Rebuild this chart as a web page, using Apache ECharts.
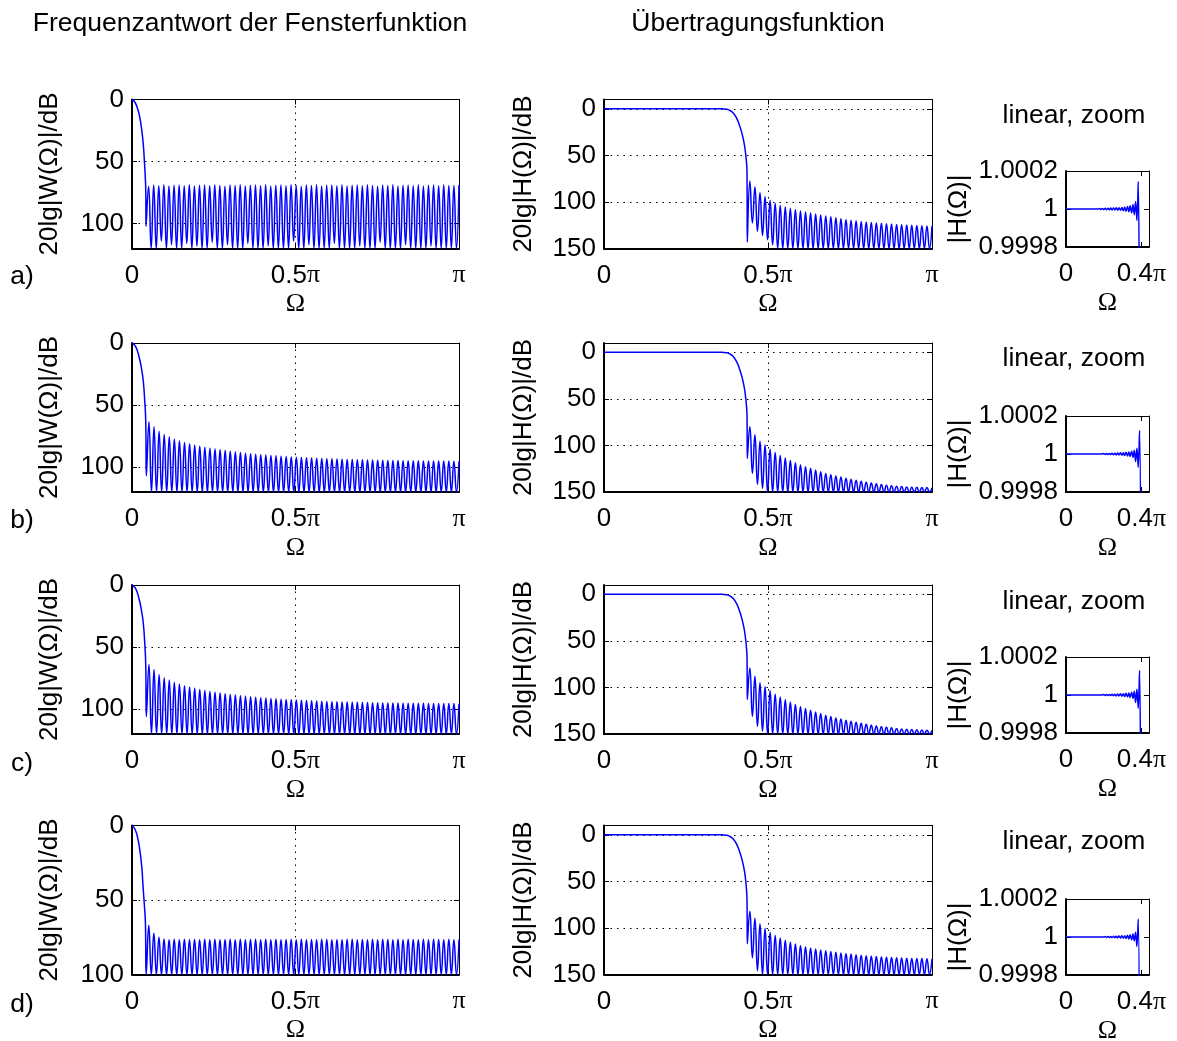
<!DOCTYPE html>
<html>
<head>
<meta charset="utf-8">
<script src="https://cdn.jsdelivr.net/npm/echarts@6/dist/echarts.min.js"></script>
<style>
  html, body { margin: 0; padding: 0; background: #fff; }
  #chart { width: 1177px; height: 1041px; }
</style>
</head>
<body>
<div id="chart"></div>
<script>
// ---------- Window spectra 20lg|W(Ω)| in dB (Ω in units of π) ----------
// main lobe down to its first null
const winMainA = [[0,0],[0.008,1.8],[0.016,6.5],[0.0235,14],[0.03,25],[0.0345,36],[0.038,50],[0.0405,62],[0.042,72],[0.043,102]];
const winMainB = [[0,0],[0.01,2.4],[0.02,9.5],[0.03,22],[0.035,32],[0.039,47],[0.042,63],[0.044,107]];
const winMainC = [[0,0],[0.01,2.4],[0.02,9.5],[0.03,22],[0.035,32],[0.039,47],[0.042,64],[0.044,106]];
const winMainD = [[0,0],[0.008,2],[0.016,7],[0.0236,16],[0.03,28],[0.0337,40.7],[0.038,54],[0.041,65],[0.0435,100]];

// side lobe maxima, from the first null up to π
const winPeaksA = [
  69.8, 68.9, 69.4, 68.7, 69.6, 69.0, 68.8, 69.5, 68.6, 69.7,
  69.1, 68.8, 69.5, 68.7, 69.3, 69.8, 68.9, 69.2, 68.6, 69.6,
  69.0, 68.8, 69.4, 68.7, 69.7, 69.1, 68.9, 69.5, 68.6, 69.2,
  69.8, 68.8, 69.3, 68.7, 69.6, 69.0, 68.9, 69.4, 68.6, 69.7,
  69.1, 68.8, 69.5, 68.7, 69.2, 69.8, 68.9, 69.3, 68.6, 69.6,
  69.0, 68.8, 69.4, 68.7, 69.7, 69.1, 68.9, 69.5, 68.6, 69.2,
  69.3, 68.9];
const winPeaksB = [
  63.5, 67.5, 71.0, 73.6, 75.6, 77.3, 78.8, 80.1, 81.2, 82.2,
  83.1, 83.9, 84.7, 85.4, 86.0, 86.6, 87.2, 87.7, 88.2, 88.7,
  89.1, 89.5, 89.9, 90.3, 90.6, 90.9, 91.2, 91.5, 91.8, 92.0,
  92.2, 92.4, 92.6, 92.8, 93.0, 93.2, 93.3, 93.5, 93.6, 93.8,
  93.9, 94.0, 94.1, 94.2, 94.3, 94.4, 94.5, 94.6, 94.6, 94.7,
  94.8, 94.8, 94.9, 94.9, 95.0, 95.0, 95.0, 95.1, 95.1, 95.1,
  95.2, 95.2];
const winPeaksC = [
  64.0, 68.0, 72.0, 74.6, 76.6, 78.3, 79.8, 81.1, 82.2, 83.2,
  84.1, 84.9, 85.7, 86.4, 87.0, 87.6, 88.1, 88.6, 89.1, 89.6,
  90.0, 90.4, 90.8, 91.1, 91.4, 91.7, 92.0, 92.3, 92.5, 92.7,
  92.9, 93.1, 93.3, 93.5, 93.7, 93.8, 94.0, 94.1, 94.2, 94.3,
  94.4, 94.5, 94.6, 94.7, 94.8, 94.9, 95.0, 95.0, 95.1, 95.1,
  95.2, 95.2, 95.3, 95.3, 95.3, 95.4, 95.4, 95.4, 95.5, 95.5,
  95.5, 95.6];
const winPeaksD = [
  67.0, 72.3, 75.0, 76.2, 76.6, 76.4, 76.7, 76.3, 76.6, 76.5,
  76.7, 76.3, 76.6, 76.4, 76.7, 76.5, 76.3, 76.6, 76.4, 76.7,
  76.5, 76.3, 76.6, 76.4, 76.7, 76.3, 76.6, 76.5, 76.4, 76.7,
  76.3, 76.6, 76.5, 76.7, 76.4, 76.3, 76.6, 76.5, 76.7, 76.4,
  76.3, 76.6, 76.5, 76.7, 76.4, 76.6, 76.3, 76.5, 76.7, 76.4,
  76.6, 76.3, 76.5, 76.7, 76.4, 76.6, 76.3, 76.5, 76.7, 76.4,
  76.6, 76.5];
// depth of the nulls between side lobes (listed ones end above the axis floor,
// the remaining ones run down to it)
const winNullsA = [
  120, 120, 114, 120, 117, 120, 120, 116, 120, 118,
  120, 120, 115, 120, 120, 117, 120, 120, 120, 116,
  120, 120, 120, 118, 120, 120, 120, 120, 114, 120,
  120, 117, 120, 120, 120, 120, 116, 120, 120, 120,
  120, 118, 120, 120, 120, 115, 120, 120, 120, 120,
  117, 120, 120, 120, 120, 118, 120, 120, 120, 120,
  120];
const winNullsB = [];
const winNullsC = [];
const winNullsD = [];

// ---------- Filter responses 20lg|H(Ω)| in dB ----------
const filtMainA = [[0,0],[0.36,0],[0.372,0.4],[0.383,1.6],[0.394,4.6],[0.405,10.5],[0.414,18.6],[0.421,27],[0.427,36.5],[0.431,46],[0.434,56],[0.436,68],[0.437,143]];
const filtMainB = [[0,0],[0.36,0],[0.372,0.4],[0.383,1.6],[0.394,4.6],[0.405,10.5],[0.414,18.6],[0.421,27],[0.427,36.5],[0.431,46],[0.434,56],[0.436,68],[0.437,114]];
const filtMainC = [[0,0],[0.36,0],[0.372,0.4],[0.383,1.6],[0.394,4.6],[0.405,10.5],[0.414,18.6],[0.421,27],[0.427,36.5],[0.431,46],[0.434,56],[0.436,68],[0.437,113]];
const filtMainD = [[0,0],[0.36,0],[0.372,0.4],[0.383,1.6],[0.394,4.6],[0.405,10.5],[0.414,18.6],[0.421,27],[0.427,36.5],[0.431,46],[0.434,57],[0.436,70],[0.437,117]];

const filtPeaksA = [
  77.5, 84.0, 90.0, 94.5, 98.5, 101.5, 103.8, 105.5, 107.0, 108.4,
  109.6, 110.8, 112.0, 113.0, 114.0, 115.0, 116.0, 117.0, 118.0, 118.8,
  119.6, 120.3, 120.9, 121.5, 122.0, 122.5, 122.9, 123.3, 123.7, 124.1,
  124.4, 124.7, 125.0, 125.3, 125.5, 125.8, 126.0];
const filtPeaksB = [
  80.0, 88.5, 95.5, 99.6, 104.0, 107.5, 110.7, 113.5, 116.2, 118.6,
  120.8, 122.8, 124.6, 126.4, 128.2, 130.0, 131.5, 132.8, 134.0, 135.2,
  136.3, 137.4, 138.4, 139.4, 140.4, 141.2, 142.0, 142.7, 143.3, 143.8,
  144.2, 144.5, 144.8, 145.0, 145.2, 145.3, 145.4];
const filtPeaksC = [
  79.0, 88.0, 95.0, 99.2, 103.6, 107.2, 110.4, 113.3, 116.0, 118.4,
  120.6, 122.6, 124.5, 126.3, 128.1, 129.8, 131.3, 132.7, 134.0, 135.2,
  136.3, 137.4, 138.5, 139.5, 140.5, 141.3, 142.1, 142.8, 143.4, 144.0,
  144.5, 144.9, 145.2, 145.5, 145.7, 145.9, 146.0];
const filtPeaksD = [
  82.0, 89.5, 95.5, 100.5, 104.8, 108.0, 110.8, 113.3, 115.4, 117.3,
  118.8, 120.2, 121.5, 122.6, 123.6, 124.5, 125.3, 126.1, 126.8, 127.5,
  128.1, 128.7, 129.3, 129.9, 130.4, 130.8, 131.2, 131.5, 131.8, 132.1,
  132.3, 132.5, 132.7, 132.8, 132.9, 133.0, 133.1];
const filtNullsA = [122.5, 131.5, 136, 140.6, 146];
const filtNullsB = [130, 141.8, 146];
const filtNullsC = [131, 142, 147];
const filtNullsD = [132, 146];

// ---------- Passband detail |H(Ω)|, linear ----------
const zoomA = [[0,1],[0.17,1],[0.178,1.000003],[0.185,0.999997],[0.193,1.000003],[0.2,0.999997],[0.207,1.000004],[0.215,0.999996],[0.222,1.000004],[0.23,0.999996],[0.237,1.000005],[0.244,0.999995],[0.252,1.000005],[0.259,0.999995],[0.267,1.000006],[0.274,0.999994],[0.281,1.000007],[0.289,0.999993],[0.296,1.000008],[0.304,0.999991],[0.311,1.00001],[0.318,0.999988],[0.326,1.000013],[0.333,0.999985],[0.34,1.000017],[0.348,0.99998],[0.355,1.000024],[0.362,0.99997],[0.369,1.00004],[0.376,0.99994],[0.383,1.000145],[0.39,0.9993]];
const zoomB = [[0,1],[0.19,1],[0.2,1.000002],[0.207,0.999998],[0.215,1.000003],[0.222,0.999997],[0.23,1.000003],[0.237,0.999997],[0.244,1.000004],[0.252,0.999996],[0.259,1.000004],[0.267,0.999995],[0.274,1.000005],[0.281,0.999995],[0.289,1.000006],[0.296,0.999994],[0.304,1.000007],[0.311,0.999992],[0.318,1.000009],[0.326,0.99999],[0.333,1.000011],[0.34,0.999987],[0.348,1.000015],[0.355,0.999982],[0.362,1.00002],[0.369,0.99996],[0.376,1.00003],[0.383,0.99993],[0.39,1.000125],[0.397,0.9993]];
const zoomC = [[0,1],[0.19,1],[0.2,1.000002],[0.207,0.999998],[0.215,1.000003],[0.222,0.999997],[0.23,1.000003],[0.237,0.999997],[0.244,1.000004],[0.252,0.999996],[0.259,1.000004],[0.267,0.999995],[0.274,1.000005],[0.281,0.999995],[0.289,1.000006],[0.296,0.999994],[0.304,1.000007],[0.311,0.999992],[0.318,1.000009],[0.326,0.99999],[0.333,1.000011],[0.34,0.999987],[0.348,1.000015],[0.355,0.999982],[0.362,1.00002],[0.369,0.99996],[0.376,1.00003],[0.383,0.99993],[0.39,1.00013],[0.397,0.9993]];
const zoomD = [[0,1],[0.2,1],[0.207,1.000002],[0.215,0.999998],[0.222,1.000003],[0.23,0.999997],[0.237,1.000003],[0.244,0.999997],[0.252,1.000004],[0.259,0.999996],[0.267,1.000004],[0.274,0.999995],[0.281,1.000005],[0.289,0.999995],[0.296,1.000006],[0.304,0.999994],[0.311,1.000007],[0.318,0.999992],[0.326,1.000009],[0.333,0.99999],[0.34,1.000012],[0.348,0.999986],[0.355,1.000016],[0.362,0.99998],[0.369,1.000025],[0.376,0.99995],[0.383,1.000095],[0.39,0.9993]];

// ---------- axis ticks and text ----------
const winTicksAC = [0, 50, 100];
const winTicksD = [0, 50, 100];
const filtTicks = [0, 50, 100, 150];
const zoomTicks = [0.9998, 1, 1.0002];
const omegaTicks = [0, 0.5, 1];
const zoomOmegaTicks = [0, 0.4];
const rowLabels = ['a)', 'b)', 'c)', 'd)'];
const colTitles = ['Frequenzantwort der Fensterfunktion', 'Übertragungsfunktion'];

// ---------- helpers ----------
const FONT = '"Liberation Sans", Arial, Helvetica, sans-serif';
const SERIF = '"Liberation Serif", "DejaVu Serif", serif';
const FS = 26;
const TFS = 26.5;
const BLUE = '#0000ff';

// curve = main lobe, then side lobes spread evenly from the first null to π.
// Each null is emitted twice so the smoothed line keeps a sharp tip there.
function lobeCurve(main, peaks, nulls, floor) {
  const pts = main.slice();
  const first = main[main.length - 1];
  pts.push(first);
  const x0 = first[0];
  const step = (1 - x0) / (peaks.length - 0.5);
  peaks.forEach((p, k) => {
    pts.push([x0 + (k + 0.5) * step, p]);
    if (k < peaks.length - 1) {
      const d = k < nulls.length ? nulls[k] : floor;
      const nx = x0 + (k + 1) * step;
      pts.push([nx, d]);
      pts.push([nx, d]);
    }
  });
  return pts;
}

function piFmt(v) {
  if (v === 0) return '0';
  if (v === 1) return '{p|π}';
  return String(v) + '{p|π}';
}
const labelBase = {
  color: '#000', fontFamily: FONT, fontSize: FS,
  rich: { p: { fontFamily: SERIF, fontSize: FS, color: '#000' } }
};
const dotted = { type: [1.5, 5], color: '#000', width: 1 };

const grids = [], xAxes = [], yAxes = [], series = [];

function addPanel(cfg) {
  const g = grids.length;
  grids.push({ left: cfg.left, top: cfg.top, width: cfg.width, height: cfg.height,
               containLabel: false, outerBoundsMode: 'none' });
  const xi = xAxes.length, yi = yAxes.length;
  // bottom x axis with labels
  xAxes.push({
    type: 'value', gridIndex: g, position: 'bottom', min: cfg.xmin, max: cfg.xmax,
    axisLine: { show: true, onZero: false, lineStyle: { color: '#000', width: 2 } },
    axisTick: { show: true, inside: true, length: 5, customValues: cfg.xticks, lineStyle: { color: '#000' } },
    axisLabel: Object.assign({ show: true, margin: 14, customValues: cfg.xticks, formatter: piFmt,
                               showMinLabel: true, showMaxLabel: true }, labelBase),
    splitLine: { show: cfg.grid, lineStyle: dotted },
    name: 'Ω', nameLocation: 'middle', nameGap: 43,
    nameTextStyle: { fontFamily: SERIF, fontSize: FS, color: '#000' }
  });
  // top frame edge
  xAxes.push({
    type: 'value', gridIndex: g, position: 'top', min: cfg.xmin, max: cfg.xmax,
    axisLine: { show: true, onZero: false, lineStyle: { color: '#000', width: 1 } },
    axisTick: { show: true, inside: true, length: 5, customValues: cfg.xticks, lineStyle: { color: '#000' } },
    axisLabel: { show: false }, splitLine: { show: false }
  });
  // left y axis with labels
  yAxes.push({
    type: 'value', gridIndex: g, position: 'left', min: cfg.ymin, max: cfg.ymax, inverse: cfg.inverse,
    axisLine: { show: true, onZero: false, lineStyle: { color: '#000', width: 2 } },
    axisTick: { show: true, inside: true, length: 5, customValues: cfg.yticks, lineStyle: { color: '#000' } },
    axisLabel: Object.assign({ show: true, margin: 8, customValues: cfg.yticks, formatter: cfg.yfmt,
                               showMinLabel: true, showMaxLabel: true }, labelBase),
    splitLine: { show: cfg.grid, lineStyle: dotted },
    name: cfg.yname, nameLocation: 'middle', nameRotate: 90, nameGap: cfg.ynameGap,
    nameTextStyle: { fontFamily: FONT, fontSize: FS, color: '#000' }
  });
  // right frame edge
  yAxes.push({
    type: 'value', gridIndex: g, position: 'right', min: cfg.ymin, max: cfg.ymax, inverse: cfg.inverse,
    axisLine: { show: true, onZero: false, lineStyle: { color: '#000', width: 1 } },
    axisTick: { show: true, inside: true, length: 5, customValues: cfg.yticks, lineStyle: { color: '#000' } },
    axisLabel: { show: false }, splitLine: { show: false }
  });
  series.push({
    type: 'line', xAxisIndex: xi, yAxisIndex: yi, data: cfg.data,
    showSymbol: false, symbol: 'none', smooth: cfg.smooth, clip: true, silent: true,
    lineStyle: { color: BLUE, width: 1.5 }, z: 5
  });
}

const rowTop = [99.5, 343, 585, 825.5];
const rowZoomTop = [171, 416, 657, 899];
const panelH = 149, zoomH = 76;

const winSets = [
  [winMainA, winPeaksA, winNullsA, 120, winTicksAC],
  [winMainB, winPeaksB, winNullsB, 120, winTicksAC],
  [winMainC, winPeaksC, winNullsC, 120, winTicksAC],
  [winMainD, winPeaksD, winNullsD, 100, winTicksD]
];
const filtSets = [
  [filtMainA, filtPeaksA, filtNullsA],
  [filtMainB, filtPeaksB, filtNullsB],
  [filtMainC, filtPeaksC, filtNullsC],
  [filtMainD, filtPeaksD, filtNullsD]
];
const zoomSets = [zoomA, zoomB, zoomC, zoomD];

for (let r = 0; r < 4; r++) {
  const w = winSets[r];
  addPanel({
    left: 132, top: rowTop[r], width: 327, height: panelH,
    xmin: 0, xmax: 1, xticks: omegaTicks,
    ymin: 0, ymax: w[3], inverse: true, yticks: w[4], yfmt: v => String(v),
    yname: '20lg|W(Ω)|/dB', ynameGap: 69, grid: true, smooth: 0.5,
    data: lobeCurve(w[0], w[1], w[2], w[3])
  });
  const f = filtSets[r];
  addPanel({
    left: 604, top: rowTop[r], width: 328, height: panelH,
    xmin: 0, xmax: 1, xticks: omegaTicks,
    ymin: -10, ymax: 150, inverse: true, yticks: filtTicks, yfmt: v => String(v),
    yname: '20lg|H(Ω)|/dB', ynameGap: 67, grid: true, smooth: 0.5,
    data: lobeCurve(f[0], f[1], f[2], 150)
  });
  addPanel({
    left: 1066, top: rowZoomTop[r], width: 83, height: zoomH,
    xmin: 0, xmax: 0.44, xticks: zoomOmegaTicks,
    ymin: 0.9998, ymax: 1.0002, inverse: false, yticks: zoomTicks,
    yfmt: v => (Math.abs(v - 1) < 1e-9 ? '1' : v.toFixed(4)),
    yname: '|H(Ω)|', ynameGap: 94, grid: false, smooth: 0.35,
    data: zoomSets[r]
  });
}

function txt(x, y, text) {
  return { type: 'text', x: x, y: y, silent: true,
           style: { text: text, fill: '#000', font: TFS + 'px ' + FONT,
                    textAlign: 'center', textVerticalAlign: 'middle', align: 'center', verticalAlign: 'middle' } };
}
const rowLabelY = [277, 521, 764, 1005];
const zoomTitleY = [116, 359, 602, 842];
const graphics = [txt(250, 24, colTitles[0]), txt(758, 24, colTitles[1])];
for (let r = 0; r < 4; r++) {
  graphics.push(txt(22, rowLabelY[r], rowLabels[r]));
  graphics.push(txt(1074, zoomTitleY[r], 'linear, zoom'));
}

const chart = echarts.init(document.getElementById('chart'), null, { renderer: 'canvas' });
chart.setOption({
  animation: false,
  backgroundColor: '#fff',
  textStyle: { fontFamily: FONT },
  grid: grids, xAxis: xAxes, yAxis: yAxes, series: series,
  graphic: graphics
});
</script>
</body>
</html>
